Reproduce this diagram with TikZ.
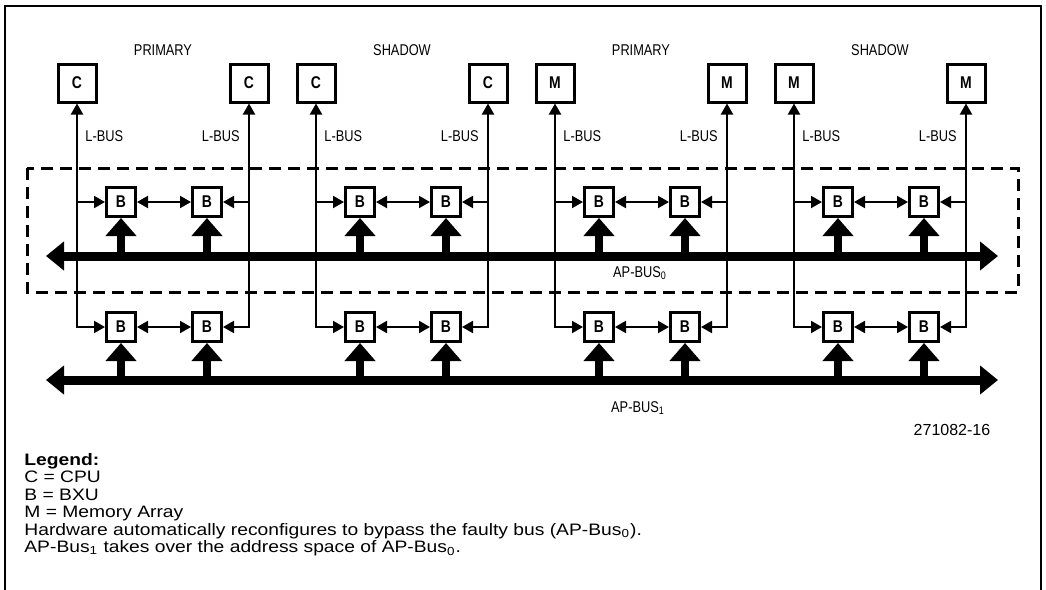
\documentclass[tikz,border=0pt]{standalone}
\usepackage{fontspec}
\setmainfont{Liberation Sans}
\newfontfamily\narrowfont[FakeStretch=0.82]{Liberation Sans}
\newfontfamily\widefont[FakeStretch=1.16]{Liberation Sans}
\newcommand\legendfont{\widefont\fontsize{8.3}{8.7}\selectfont\lineskiplimit=-5pt\relax}
\usetikzlibrary{arrows.meta}

\begin{document}
\begin{tikzpicture}[x=0.5pt,y=-0.5pt,
      >={Triangle[width=6pt,length=5.5pt]},
      unit/.style={draw, line width=1.5pt, minimum size=19pt, inner sep=0pt,
                   font=\narrowfont\bfseries\fontsize{8.5}{8.5}\selectfont},
      bxu/.style={draw, line width=1.5pt, minimum size=14.5pt, inner sep=0pt,
                  font=\narrowfont\bfseries\fontsize{8.5}{8.5}\selectfont},
      lbus/.style={line width=1pt},
      stem/.style={line width=4pt, -{Triangle[width=15pt,length=9pt]}},
      bus/.style={line width=4.5pt,
                  {Triangle[width=14pt,length=9pt]}-{Triangle[width=14pt,length=9pt]}},
      faulty/.style={line width=1.5pt, dash pattern=on 6pt off 3.5pt},
      lab/.style={font=\narrowfont\fontsize{7.8}{8}\selectfont, inner sep=0pt},
      legend/.style={align=left, inner sep=0pt, font=\legendfont}
    ]
    \useasboundingbox (0,0) rectangle (1046,590);
    % page frame, open at the bottom
    \draw[line width=1pt] (5,590) -- (5,6) -- (1041,6) -- (1041,590);
    % failing bus region
    \draw[faulty] (27,168) rectangle (1018,292);
    % the two AP buses
    \coordinate (bus0w) at (46,256);
    \coordinate (bus0e) at (998,256);
    \coordinate (bus1w) at (46,380);
    \coordinate (bus1e) at (998,380);
    \node[lab] (ap0) at (640,273) {AP-BUS\textsubscript{0}};
    \node[lab] (ap1) at (638,408) {AP-BUS\textsubscript{1}};
    % four groups: two units, each with two BXUs
    \foreach \g/\x/\name/\t in {1/77/PRIMARY/C, 2/316/SHADOW/C, 3/555/PRIMARY/M, 4/794/SHADOW/M} {
      \node[lab] (hd\g) at (\x+86,50) {\name};
      \node[unit] (ul\g) at (\x,83) {\t};
      \node[unit] (ur\g) at (\x+172,83) {\t};
      \node[lab, anchor=west] (ll\g) at (\x+8,136) {L-BUS};
      \node[lab, anchor=east] (lr\g) at (\x+163,136) {L-BUS};
      \node[bxu] (al\g) at (\x+44,202) {B};
      \node[bxu] (ar\g) at (\x+130,202) {B};
      \node[bxu] (bl\g) at (\x+44,327) {B};
      \node[bxu] (br\g) at (\x+130,327) {B};
      % L-bus of each unit
      \draw[lbus,<->] (ul\g) -- (ul\g |- bl\g) -- (bl\g);
      \draw[lbus,->] (ul\g |- al\g) -- (al\g);
      \draw[lbus,<->] (ur\g) -- (ur\g |- br\g) -- (br\g);
      \draw[lbus,->] (ur\g |- ar\g) -- (ar\g);
      \draw[lbus,<->] (al\g) -- (ar\g);
      \draw[lbus,<->] (bl\g) -- (br\g);
      % BXU to AP bus
      \draw[stem] (al\g |- bus0w) -- (al\g);
      \draw[stem] (ar\g |- bus0w) -- (ar\g);
      \draw[stem] (bl\g |- bus1w) -- (bl\g);
      \draw[stem] (br\g |- bus1w) -- (br\g);
    }
    \draw[bus] (bus0w) -- (bus0e);
    \draw[bus] (bus1w) -- (bus1e);
    \node[font=\fontsize{8}{8}\selectfont, inner sep=0pt] (fig) at (952,430) {271082-16};
    \node[legend, anchor=north west] (leg) at (24,453) {\textbf{Legend:}\\
      C = CPU\\
      B = BXU\\
      M = Memory Array\\
      Hardware automatically reconfigures to bypass the faulty bus (AP-Bus\textsubscript{0}).\\
      AP-Bus\textsubscript{1} takes over the address space of AP-Bus\textsubscript{0}.};
  \end{tikzpicture}
\end{document}
